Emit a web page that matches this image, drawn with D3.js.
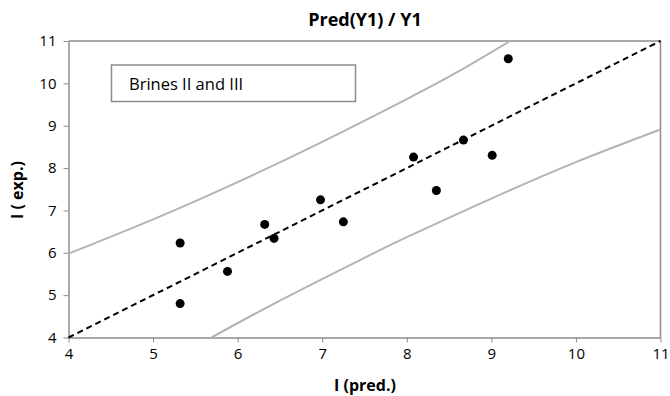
<!DOCTYPE html>
<html>
<head>
<meta charset="utf-8">
<script src="https://cdn.jsdelivr.net/npm/d3@7"></script>
<style>
	body { margin: 0; background: #fff; }
	svg text { font-family: "Open Sans", Lato, sans-serif; fill: #000; }
</style>
</head>
<body>
<script>
// observed points (pred, exp)
var predVals = [5.32, 5.32, 5.88, 6.32, 6.43, 6.98, 7.25, 8.08, 8.35, 8.67, 9.01, 9.20];
var expVals  = [6.23, 4.80, 5.56, 6.67, 6.34, 7.25, 6.73, 8.26, 7.47, 8.66, 8.30, 10.58];
// y = x reference line
var idealX = [4, 11];
var idealY = [4, 11];
// prediction band
var upperX = [4, 5, 6, 7, 8, 8.6, 9.22];
var upperY = [5.98, 6.79, 7.67, 8.62, 9.63, 10.27, 11];
var lowerX = [5.69, 6.5, 7.5, 8, 9, 10, 11];
var lowerY = [4, 4.87, 5.88, 6.37, 7.28, 8.14, 8.91];
var tickVals = [4, 5, 6, 7, 8, 9, 10, 11];
var legendText = "Brines II and III";

(function(){
	const W = 670, H = 396;
	const MARGIN = { top: 41, right: 10, bottom: 58, left: 68.5 };
	var width = 660.5 - MARGIN.left;
	var height = 337.5 - MARGIN.top;

	var svg = d3.select('body').append('svg')
		.attr('width', W)
		.attr('height', H);

	var g = svg.append('g')
		.attr('transform', 'translate(' + MARGIN.left + ',' + MARGIN.top + ')');

	var x = d3.scaleLinear().domain([4, 11]).range([0, width]);
	var y = d3.scaleLinear().domain([4, 11]).range([height, 0]);

	// plot frame (top and right)
	g.append('path')
		.attr('d', 'M0,0H' + width + 'V' + height)
		.attr('fill', 'none')
		.attr('stroke', '#8c8c8c')
		.attr('stroke-width', 1.5);

	// X axis
	var xAxis = g.append('g')
		.attr('transform', 'translate(0,' + height + ')')
		.call(d3.axisBottom(x).tickValues(tickVals).tickFormat(d3.format('d')).tickSize(5).tickSizeOuter(0).tickPadding(6));
	// Y axis
	var yAxis = g.append('g')
		.call(d3.axisLeft(y).tickValues(tickVals).tickFormat(d3.format('d')).tickSize(5).tickSizeOuter(0).tickPadding(7));

	[xAxis, yAxis].forEach(function(ax){
		ax.select('.domain').attr('stroke', '#8c8c8c').attr('stroke-width', 1.5);
		ax.selectAll('.tick line').attr('stroke', '#8c8c8c').attr('stroke-width', 1);
		ax.selectAll('.tick text')
			.style('font-family', '"Open Sans", Lato, sans-serif')
			.style('font-size', '15px')
			.attr('fill', '#000');
	});

	// band curves
	var line = d3.line()
		.x(function(d){ return x(d[0]); })
		.y(function(d){ return y(d[1]); })
		.curve(d3.curveNatural);

	[[upperX, upperY], [lowerX, lowerY]].forEach(function(c){
		g.append('path')
			.datum(c[0].map(function(v, i){ return [v, c[1][i]]; }))
			.attr('fill', 'none')
			.attr('stroke', '#b4b4b4')
			.attr('stroke-width', 2)
			.attr('d', line);
	});

	// y = x dashed
	g.append('path')
		.datum(idealX.map(function(v, i){ return [v, idealY[i]]; }))
		.attr('fill', 'none')
		.attr('stroke', '#000')
		.attr('stroke-width', 2)
		.attr('stroke-dasharray', '6,4')
		.attr('d', d3.line().x(function(d){ return x(d[0]); }).y(function(d){ return y(d[1]); }));

	// points
	g.selectAll('circle.pt')
		.data(predVals.map(function(v, i){ return [v, expVals[i]]; }))
		.enter()
		.append('circle')
		.attr('class', 'pt')
		.attr('cx', function(d){ return x(d[0]); })
		.attr('cy', function(d){ return y(d[1]); })
		.attr('r', 4.5)
		.attr('fill', '#000');

	// legend box
	svg.append('rect')
		.attr('x', 111.5).attr('y', 65)
		.attr('width', 244).attr('height', 36.5)
		.attr('fill', '#fff')
		.attr('stroke', '#8c8c8c')
		.attr('stroke-width', 1.5);
	svg.append('text')
		.attr('x', 129).attr('y', 89.5)
		.style('font-size', '16.5px')
		.text(legendText);

	// titles
	svg.append('text')
		.attr('x', 365).attr('y', 26)
		.attr('text-anchor', 'middle')
		.style('font-size', '18px')
		.style('font-weight', 'bold')
		.text('Pred(Y1) / Y1');
	svg.append('text')
		.attr('x', 365).attr('y', 391)
		.attr('text-anchor', 'middle')
		.style('font-size', '16px')
		.style('font-weight', 'bold')
		.text('I (pred.)');
	svg.append('text')
		.attr('transform', 'translate(23,190) rotate(-90)')
		.attr('text-anchor', 'middle')
		.style('font-size', '16px')
		.style('font-weight', 'bold')
		.text('I ( exp.)');
})();
</script>
</body>
</html>
